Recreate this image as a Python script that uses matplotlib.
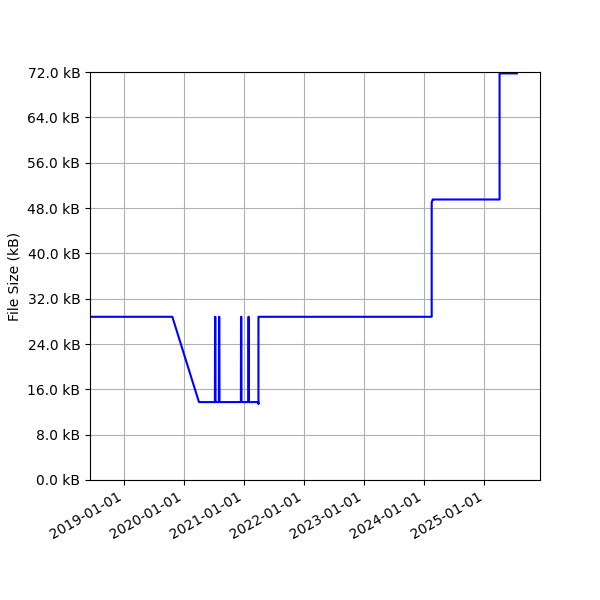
import matplotlib

matplotlib.use("Agg")
import matplotlib.pyplot as plt  # noqa: E402
import matplotlib.dates as mdates  # noqa: E402
import matplotlib.ticker as mticker  # noqa: E402
import pandas as pd  # noqa: E402

# file size history (kB)
DATES = [
    "2018-06-08", "2019-10-22", "2020-04-01",
    "2020-07-07", "2020-07-08", "2020-07-10", "2020-07-11",
    "2020-07-31", "2020-08-01", "2020-08-03", "2020-08-04",
    "2020-12-12", "2020-12-13", "2020-12-15", "2020-12-16",
    "2021-01-26", "2021-01-27", "2021-01-29", "2021-01-30",
    "2021-03-28", "2021-03-29", "2021-03-29",
    "2024-02-16", "2024-02-16", "2024-02-22", "2024-02-25",
    "2025-04-04", "2025-04-04", "2025-07-18",
]
SIZES = [
    28.8, 28.8, 13.75,
    13.75, 28.8, 28.8, 13.75,
    13.75, 28.8, 28.8, 13.75,
    13.75, 28.8, 28.8, 13.75,
    13.75, 28.8, 28.8, 13.75,
    13.75, 13.4, 28.8,
    28.8, 49.0, 49.5, 49.5,
    49.5, 71.75, 71.75,
]
XLIM = ("2018-06-08", "2025-12-06")
YMAX = 72.0


def main():
    t = pd.to_datetime(DATES)
    fig, ax = plt.subplots(figsize=(6, 6), dpi=100)
    ax.plot(t, SIZES, color="blue")
    ax.set_xlim(pd.Timestamp(XLIM[0]), pd.Timestamp(XLIM[1]))
    ax.set_ylim(0, YMAX)
    ax.yaxis.set_major_locator(mticker.MultipleLocator(8))
    ax.yaxis.set_major_formatter(mticker.FuncFormatter(lambda v, _: f"{v:.1f} kB"))
    ax.xaxis.set_major_locator(mdates.YearLocator())
    ax.xaxis.set_major_formatter(mdates.DateFormatter("%Y-%m-%d"))
    ax.set_ylabel("File Size (kB)")
    ax.grid(True)
    fig.autofmt_xdate()
    fig.subplots_adjust(left=0.15)
    fig.savefig("out.png", dpi=100)
    plt.close(fig)


if __name__ == "__main__":
    main()
